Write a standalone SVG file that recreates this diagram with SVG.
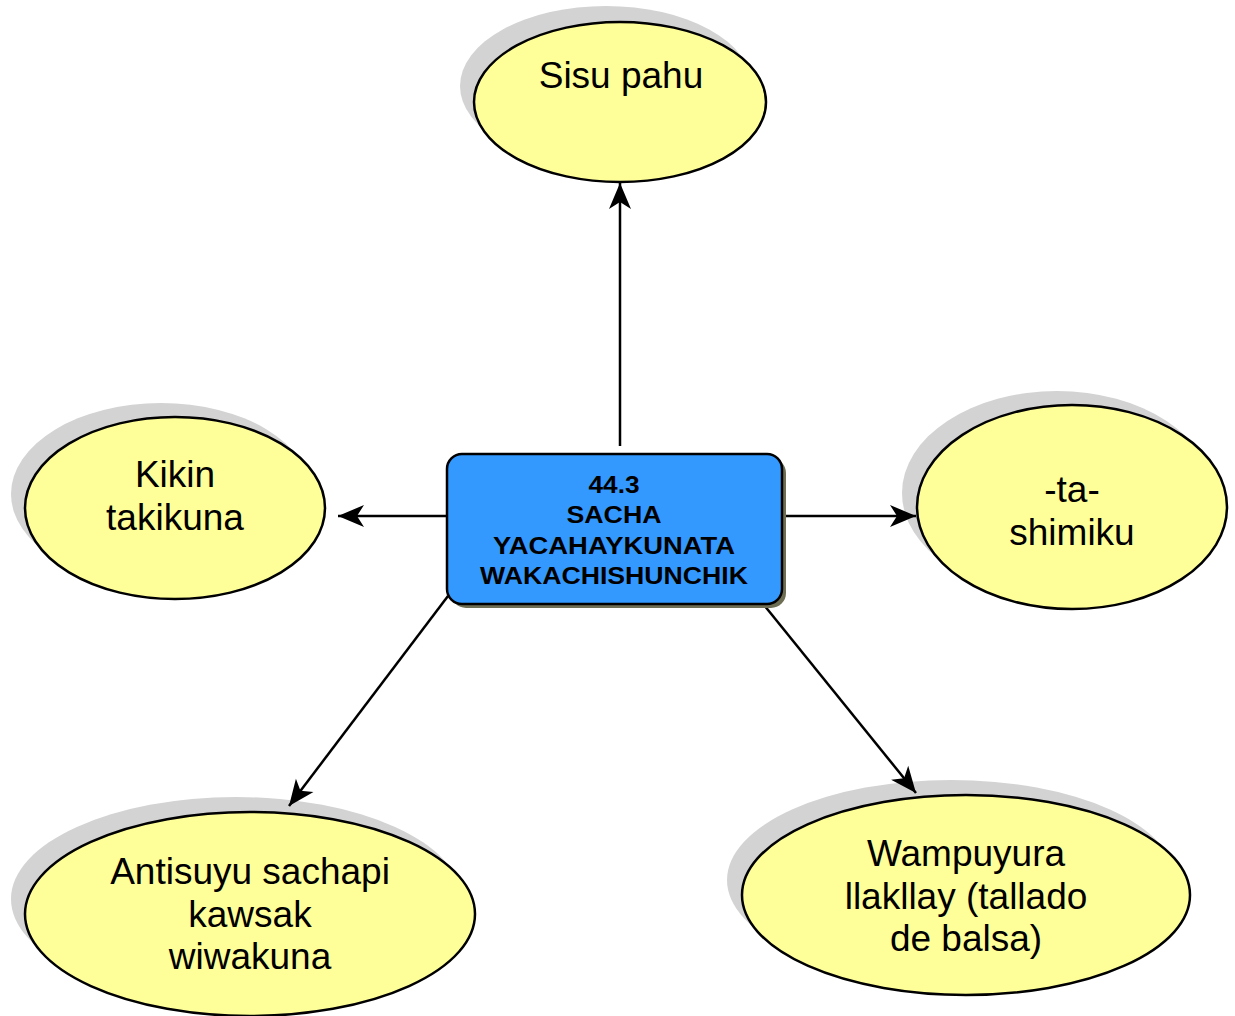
<svg xmlns="http://www.w3.org/2000/svg" width="1235" height="1016" viewBox="0 0 1235 1016">
<defs>
<marker id="arr" viewBox="-28 -12 30 24" refX="0" refY="0" markerWidth="30" markerHeight="24" markerUnits="userSpaceOnUse" orient="auto">
<path d="M0,0 L-26,-11 L-19,0 L-26,11 Z" fill="#000"/>
</marker>
</defs>
<style>
.sh{fill:#d3d3d3}
.el{fill:#ffff99;stroke:#000;stroke-width:2.5}
.t{font-family:"Liberation Sans",Arial,sans-serif;font-size:37px;fill:#000;text-anchor:middle}
.b{font-family:"Liberation Sans",Arial,sans-serif;font-size:24px;font-weight:bold;fill:#000;text-anchor:middle}
.c{stroke:#000;stroke-width:2.5;fill:none;marker-end:url(#arr)}
</style>
<rect width="1235" height="1016" fill="#fff"/>
<g id="n-top">
<ellipse class="sh" cx="606" cy="86" rx="146" ry="80"/>
<ellipse class="el" cx="620" cy="102" rx="146" ry="80"/>
<text class="t" x="621" y="88">Sisu pahu</text>
</g>
<g id="n-left">
<ellipse class="sh" cx="161" cy="494" rx="150" ry="91"/>
<ellipse class="el" cx="175" cy="508" rx="150" ry="91"/>
<text class="t" x="175" y="487">Kikin</text>
<text class="t" x="175" y="530">takikuna</text>
</g>
<g id="n-right">
<ellipse class="sh" cx="1057" cy="493" rx="155" ry="102"/>
<ellipse class="el" cx="1072" cy="507" rx="155" ry="102"/>
<text class="t" x="1072" y="502">-ta-</text>
<text class="t" x="1072" y="545">shimiku</text>
</g>
<g id="n-bl">
<ellipse class="sh" cx="236" cy="899" rx="225" ry="102"/>
<ellipse class="el" cx="250" cy="914" rx="225" ry="102"/>
<text class="t" x="250" y="884">Antisuyu sachapi</text>
<text class="t" x="250" y="927">kawsak</text>
<text class="t" x="250" y="969">wiwakuna</text>
</g>
<g id="n-br">
<ellipse class="sh" cx="951" cy="880" rx="224" ry="100"/>
<ellipse class="el" cx="966" cy="895" rx="224" ry="100"/>
<text class="t" x="966" y="866">Wampuyura</text>
<text class="t" x="966" y="909">llakllay (tallado</text>
<text class="t" x="966" y="951">de balsa)</text>
</g>
<g id="connectors">
<line class="c" x1="620" y1="446" x2="620" y2="183"/>
<line class="c" x1="446" y1="516" x2="338" y2="516"/>
<line class="c" x1="783" y1="516" x2="916" y2="516"/>
<line class="c" x1="448" y1="596" x2="289" y2="806"/>
<line class="c" x1="764" y1="605" x2="916" y2="793"/>
</g>
<g id="n-center">
<rect x="451" y="458" width="335" height="150" rx="15" fill="#6e6e55"/>
<rect x="447" y="454" width="335" height="150" rx="15" fill="#3399ff" stroke="#000" stroke-width="2.5"/>
<text class="b" x="614" y="493" textLength="51" lengthAdjust="spacingAndGlyphs">44.3</text>
<text class="b" x="614" y="523" textLength="95" lengthAdjust="spacingAndGlyphs">SACHA</text>
<text class="b" x="614" y="554" textLength="242" lengthAdjust="spacingAndGlyphs">YACAHAYKUNATA</text>
<text class="b" x="614" y="584" textLength="268" lengthAdjust="spacingAndGlyphs">WAKACHISHUNCHIK</text>
</g>
</svg>
